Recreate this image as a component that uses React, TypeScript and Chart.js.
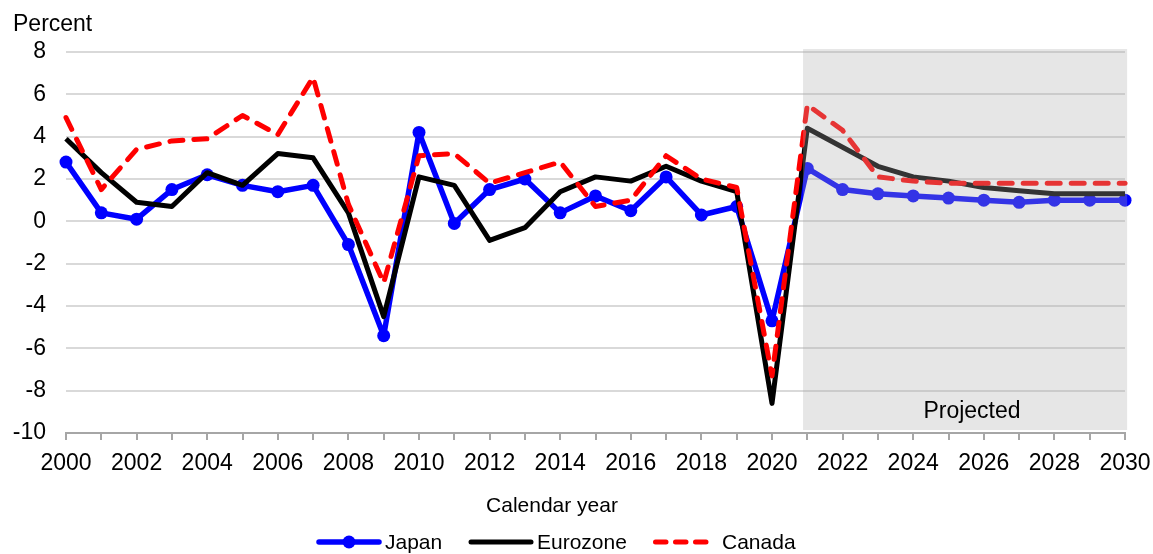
import React, { useEffect, useRef } from "react";
import { Chart, registerables } from "chart.js";

Chart.register(...registerables);

const years = [
  2000, 2001, 2002, 2003, 2004, 2005, 2006, 2007, 2008, 2009,
  2010, 2011, 2012, 2013, 2014, 2015, 2016, 2017, 2018, 2019,
  2020, 2021, 2022, 2023, 2024, 2025, 2026, 2027, 2028, 2029, 2030,
];

const japan = [
  2.8, 0.4, 0.1, 1.5, 2.2, 1.7, 1.4, 1.7, -1.1, -5.4,
  4.2, -0.1, 1.5, 2.0, 0.4, 1.2, 0.5, 2.1, 0.3, 0.7,
  -4.7, 2.5, 1.5, 1.3, 1.2, 1.1, 1.0, 0.9, 1.0, 1.0, 1.0,
];

const eurozone = [
  3.9, 2.3, 0.9, 0.7, 2.3, 1.7, 3.2, 3.0, 0.4, -4.5,
  2.1, 1.7, -0.9, -0.3, 1.4, 2.1, 1.9, 2.6, 1.9, 1.4,
  -8.6, 4.4, 3.5, 2.6, 2.1, 1.9, 1.6, 1.45, 1.3, 1.3, 1.3,
];

const canada = [
  4.9, 1.5, 3.4, 3.8, 3.9, 5.0, 4.1, 6.8, 0.8, -2.9,
  3.1, 3.2, 1.8, 2.3, 2.8, 0.7, 1.0, 3.1, 2.0, 1.6,
  -7.3, 5.5, 4.3, 2.1, 1.9, 1.8, 1.8, 1.8, 1.8, 1.8, 1.8,
];

const yTicks = [-10, -8, -6, -4, -2, 0, 2, 4, 6, 8];
const xTickLabels = [2000, 2002, 2004, 2006, 2008, 2010, 2012, 2014, 2016, 2018, 2020, 2022, 2024, 2026, 2028, 2030];

const projectedStart = 2020.88;
const projectedEnd = 2030.06;
const projectedTop = 8.14;
const projectedBottom = -9.86;

const FONT = "'Liberation Sans', Arial, Helvetica, sans-serif";

const legendItems = [
  { label: "Japan", color: "#0000ff", width: 5.5, dash: [] as number[], marker: true, x1: 319, x2: 379, tx: 385 },
  { label: "Eurozone", color: "#000000", width: 5, dash: [] as number[], marker: false, x1: 471, x2: 531, tx: 537 },
  { label: "Canada", color: "#ff0000", width: 5, dash: [10.5, 9.5], marker: false, x1: 655.5, x2: 708, tx: 722 },
];

const decorPlugin = {
  id: "decor",
  afterDatasetsDraw(chart: any) {
    const ctx = chart.ctx;
    const xs = chart.scales.x;
    const ys = chart.scales.y;
    const left = xs.getPixelForValue(projectedStart);
    const right = xs.getPixelForValue(projectedEnd);
    const top = ys.getPixelForValue(projectedTop);
    const bottom = ys.getPixelForValue(projectedBottom);
    ctx.save();
    ctx.fillStyle = "rgba(171,171,171,0.3)";
    ctx.fillRect(left, top, right - left, bottom - top);
    ctx.fillStyle = "#000";
    ctx.font = `23px ${FONT}`;
    ctx.textAlign = "center";
    ctx.textBaseline = "alphabetic";
    ctx.fillText("Projected", 972, 418);
    ctx.restore();
  },
  afterDraw(chart: any) {
    const ctx = chart.ctx;
    ctx.save();
    ctx.fillStyle = "#000";
    ctx.textBaseline = "alphabetic";
    ctx.textAlign = "left";
    ctx.font = `23px ${FONT}`;
    ctx.fillText("Percent", 13, 31);

    ctx.font = `21px ${FONT}`;
    ctx.textAlign = "center";
    ctx.fillText("Calendar year", 552, 512);

    const ly = 542;
    legendItems.forEach((it) => {
      ctx.save();
      ctx.strokeStyle = it.color;
      ctx.lineWidth = it.width;
      ctx.lineCap = "round";
      ctx.setLineDash(it.dash);
      ctx.beginPath();
      ctx.moveTo(it.x1, ly);
      ctx.lineTo(it.x2, ly);
      ctx.stroke();
      ctx.setLineDash([]);
      if (it.marker) {
        ctx.fillStyle = it.color;
        ctx.beginPath();
        ctx.arc((it.x1 + it.x2) / 2, ly, 6.5, 0, Math.PI * 2);
        ctx.fill();
      }
      ctx.restore();
      ctx.fillStyle = "#000";
      ctx.textAlign = "left";
      ctx.font = `21px ${FONT}`;
      ctx.fillText(it.label, it.tx, 549);
    });
    ctx.restore();
  },
};

export default function App() {
  const canvasRef = useRef<HTMLCanvasElement | null>(null);

  useEffect(() => {
    if (!canvasRef.current) return;
    const toPoints = (vals: number[]) => years.map((x, i) => ({ x, y: vals[i] }));
    const chart = new Chart(canvasRef.current, {
      type: "line",
      data: {
        datasets: [
          {
            label: "Japan",
            data: toPoints(japan),
            borderColor: "#0000ff",
            backgroundColor: "#0000ff",
            borderWidth: 5.5,
            pointRadius: 6.5,
            pointBackgroundColor: "#0000ff",
            pointBorderWidth: 0,
            pointHoverRadius: 6.5,
            borderJoinStyle: "round",
            tension: 0,
            order: 3,
            clip: false as any,
          },
          {
            label: "Eurozone",
            data: toPoints(eurozone),
            borderColor: "#000000",
            backgroundColor: "#000000",
            borderWidth: 5,
            pointRadius: 0,
            borderJoinStyle: "round",
            tension: 0,
            order: 2,
            clip: false as any,
          },
          {
            label: "Canada",
            data: toPoints(canada),
            borderColor: "#ff0000",
            backgroundColor: "#ff0000",
            borderWidth: 5,
            borderDash: [13, 11],
            borderCapStyle: "round",
            borderJoinStyle: "round",
            pointRadius: 0,
            tension: 0,
            order: 1,
            clip: false as any,
          },
        ],
      },
      options: {
        responsive: true,
        maintainAspectRatio: false,
        animation: false,
        events: [],
        layout: { autoPadding: false, padding: { top: 52, right: 28, left: 0, bottom: 0 } },
        plugins: {
          legend: { display: false },
          tooltip: { enabled: false },
          title: { display: false },
        },
        scales: {
          x: {
            type: "linear",
            min: 2000,
            max: 2030,
            afterBuildTicks: (s: any) => {
              s.ticks = years.map((v) => ({ value: v }));
            },
            afterFit: (s: any) => {
              s.height = 121;
              s.paddingLeft = 0;
              s.paddingRight = 20;
            },
            ticks: {
              autoSkip: false,
              maxRotation: 0,
              minRotation: 0,
              color: "#000",
              padding: 10,
              font: { family: FONT, size: 23 },
              callback: (v: any) => (xTickLabels.includes(Number(v)) ? String(v) : ""),
            },
            grid: {
              drawOnChartArea: false,
              drawTicks: true,
              tickLength: 7,
              color: "#a6a6a6",
              lineWidth: 2,
            },
            border: { display: true, color: "#a6a6a6", width: 2 },
          },
          y: {
            type: "linear",
            min: -10,
            max: 8,
            afterBuildTicks: (s: any) => {
              s.ticks = yTicks.map((v) => ({ value: v }));
            },
            afterFit: (s: any) => {
              s.width = 66;
            },
            ticks: {
              color: "#000",
              padding: 20,
              font: { family: FONT, size: 23 },
              callback: (v: any) => String(v),
            },
            grid: {
              drawTicks: false,
              lineWidth: 2,
              color: (c: any) => (c.tick && c.tick.value === -10 ? "rgba(0,0,0,0)" : "#d9d9d9"),
            },
            border: { display: false },
          },
        },
      },
      plugins: [decorPlugin],
    } as any);
    return () => chart.destroy();
  }, []);

  return (
    <div style={{ position: "absolute", left: 0, top: 0, width: 1153, height: 554 }}>
      <canvas ref={canvasRef} />
    </div>
  );
}
